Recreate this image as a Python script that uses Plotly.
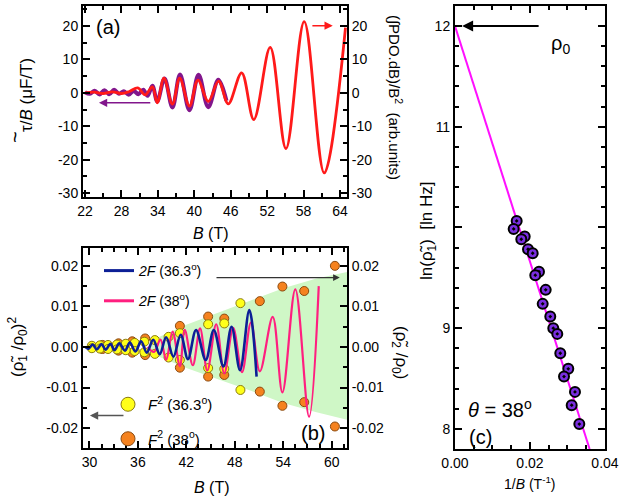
import plotly.graph_objects as go

W, H = 623, 496
FONT = "Arial, Liberation Sans, sans-serif"

# ---------------- panel (a) data ----------------
tau_B = [22.0, 22.8, 23.6, 24.4, 25.2, 26.0, 26.8, 27.6, 28.4, 29.2, 30.0, 30.8, 31.6, 32.3,
         33.1, 33.9, 35.1, 36.4, 37.65, 39.2, 40.7, 42.3, 43.96, 45.3]
tau_v = [0.2, -0.3, 0.6, -0.5, 0.8, -0.4, 0.9, -0.3, 0.5, -0.6, 0.6, -0.4, 0.9, -0.9,
         2.1, -2.6, 4.3, -4.4, 5.5, -5.2, 5.4, -4.3, 3.9, -2.4]
pdo_B = [22.0, 23.5, 25.0, 26.5, 28.0, 29.3, 30.7, 31.9, 33.1, 33.9, 35.0, 36.4, 37.6, 39.2,
         40.6, 42.3, 44.0, 45.6, 47.8, 49.8, 52.5, 55.1, 58.1, 61.4, 64.9]
pdo_v = [0.0, 0.2, -0.2, 0.3, -0.2, 0.4, 1.5, -0.6, 1.8, -3.0, 4.4, -3.4, 4.4, -4.0,
         3.8, -2.6, 3.5, -3.3, 6.0, -8.0, 13.6, -16.7, 21.3, -24.0, 19.5]
a_xticks = [22, 28, 34, 40, 46, 52, 58, 64]
a_yticks = [-30, -20, -10, 0, 10, 20]
a_ylabels = ["-30", "-20", "-10", "0", "10", "20"]

# ---------------- panel (b) data ----------------
blue_B = [29.5, 29.9, 30.4, 30.9, 31.5, 32.0, 32.6, 33.1, 33.7, 34.4, 35.0, 35.7, 36.4, 37.1,
          37.9, 38.7, 39.5, 40.4, 41.3, 42.2, 43.2, 44.4, 45.4, 46.6, 47.6, 48.65, 49.8, 50.7]
blue_v = [0.0, -0.0004, 0.0006, -0.0006, 0.0007, -0.0007, 0.0008, -0.0008, 0.0009, -0.0009,
          0.0011, -0.0011, 0.0014, -0.0014, 0.0018, -0.0018, 0.0024, -0.0024, 0.0030, -0.0030,
          0.0042, -0.0032, 0.0042, -0.0048, 0.0050, -0.0057, 0.0091, -0.0073]
pink_B = [37.2, 38.0, 38.8, 39.5, 40.3, 41.2, 41.8, 42.8, 43.7, 44.6, 45.7, 46.7, 47.8, 48.9,
          50.0, 51.1, 52.7, 53.9, 55.5, 57.2, 58.4]
pink_v = [0.0, -0.0012, 0.0018, -0.0032, 0.0038, -0.0047, 0.0042, -0.0045, 0.0046, -0.0058,
          0.0056, -0.0065, 0.0047, -0.0062, 0.0060, -0.0060, 0.0074, -0.0112, 0.0142, -0.0172, 0.0150]
yel_B = [30.3, 31.3, 32.3, 33.4, 34.5, 35.6, 36.8, 38.1, 39.8, 41.2, 44.7, 46.7, 48.7]
yel_hi = [0.0003, 0.0004, 0.0005, 0.0006, 0.0008, 0.0010, 0.0013, 0.0017, 0.0025, 0.0034,
          0.0056, 0.0058, 0.0108]
yel_lo = [-0.0003, -0.0004, -0.0005, -0.0006, -0.0008, -0.0010, -0.0013, -0.0017, -0.0026,
          -0.0032, -0.0052, -0.0054, -0.0106]
org_B = [31.6, 33.6, 35.3, 36.9, 41.2, 44.7, 46.7, 51.1, 53.9, 56.6, 60.4]
org_hi = [0.0005, 0.0009, 0.0014, 0.0021, 0.0052, 0.0075, 0.0070, 0.0113, 0.0149, 0.0138, 0.0200]
org_lo = [-0.0005, -0.0009, -0.0014, -0.0020, -0.0051, -0.0073, -0.0069, -0.0110, -0.0145,
          -0.0136, -0.0196]
env_B = [37.5, 42.0, 46.0, 50.0, 54.0, 58.0, 62.0]
env_hi = [0.0015, 0.0055, 0.0085, 0.0115, 0.0145, 0.0168, 0.0185]
env_lo = [-0.0015, -0.0052, -0.0080, -0.0108, -0.0138, -0.0160, -0.0180]
b_xticks = [30, 36, 42, 48, 54, 60]
b_yticks = [-0.02, -0.01, 0.0, 0.01, 0.02]
b_ylabels = ["-0.02", "-0.01", "0.00", "0.01", "0.02"]

# ---------------- panel (c) data ----------------
c_x = [0.01645, 0.01565, 0.01859, 0.01768, 0.01947, 0.02072, 0.0224, 0.02141, 0.02419, 0.02339,
       0.02541, 0.02621, 0.02728, 0.02808, 0.03021, 0.02907, 0.032, 0.03112, 0.03315]
c_y = [10.065, 9.985, 9.909, 9.883, 9.784, 9.744, 9.561, 9.526, 9.380, 9.241,
       9.115, 9.000, 8.943, 8.751, 8.596, 8.519, 8.367, 8.235, 8.047]
fit_x = [0.0, 0.0359]
fit_y = [12.0, 7.8]
c_xticks = [0.0, 0.02, 0.04]
c_xlabels = ["0.00", "0.02", "0.04"]
c_yticks = [8, 9, 10, 11, 12]
c_ylabels = ["8", "9", "", "11", "12"]


def P(x, y):
    return x / W, 1 - y / H


fig = go.Figure()

# panel (a)
fig.add_trace(go.Scatter(x=pdo_B, y=pdo_v, mode="lines", line=dict(color="#ff1a1a", width=2.8, shape="spline"),
                         xaxis="x", yaxis="y2", showlegend=False))
fig.add_trace(go.Scatter(x=tau_B, y=tau_v, mode="lines", line=dict(color="#82168c", width=4, shape="spline"),
                         xaxis="x", yaxis="y", showlegend=False))

# panel (b)
fig.add_trace(go.Scatter(x=env_B + env_B[::-1], y=env_hi + env_lo[::-1], mode="lines", fill="toself",
                         fillcolor="#cff7c6", line=dict(width=0, color="#cff7c6"),
                         xaxis="x2", yaxis="y3", showlegend=False))
fig.add_trace(go.Scatter(x=org_B + org_B, y=org_hi + org_lo, mode="markers",
                         marker=dict(color="#f5821f", size=9, line=dict(color="#8a4a10", width=1)),
                         xaxis="x2", yaxis="y3", showlegend=False))
fig.add_trace(go.Scatter(x=yel_B + yel_B, y=yel_hi + yel_lo, mode="markers",
                         marker=dict(color="#ffff1a", size=9, line=dict(color="#8a7a10", width=1)),
                         xaxis="x2", yaxis="y3", showlegend=False))
fig.add_trace(go.Scatter(x=pink_B, y=pink_v, mode="lines", line=dict(color="#ff1f7f", width=2.2, shape="spline"),
                         xaxis="x2", yaxis="y4", showlegend=False))
fig.add_trace(go.Scatter(x=blue_B, y=blue_v, mode="lines", line=dict(color="#0c1f96", width=2.6, shape="spline"),
                         xaxis="x2", yaxis="y4", showlegend=False))
# legend entries
fig.add_trace(go.Scatter(x=[None], y=[None], mode="lines", line=dict(color="#0c1f96", width=3),
                         name="<i>2F</i> (36.3<sup>o</sup>)", legend="legend", legendgroup="g1",
                         xaxis="x2", yaxis="y4"))
fig.add_trace(go.Scatter(x=[None], y=[None], mode="lines", line=dict(color="#ff1f7f", width=3),
                         name="<i>2F</i> (38<sup>o</sup>)", legend="legend", legendgroup="g2",
                         xaxis="x2", yaxis="y4"))
fig.add_trace(go.Scatter(x=[None], y=[None], mode="markers",
                         marker=dict(color="#ffff1a", size=14, line=dict(color="#8a7a10", width=1)),
                         name="<i>F</i><sup>2</sup> (36.3<sup>o</sup>)", legend="legend2", legendgroup="g3",
                         xaxis="x2", yaxis="y3"))
fig.add_trace(go.Scatter(x=[None], y=[None], mode="markers",
                         marker=dict(color="#f5821f", size=14, line=dict(color="#8a4a10", width=1)),
                         name="<i>F</i><sup>2</sup> (38<sup>o</sup>)", legend="legend2", legendgroup="g4",
                         xaxis="x2", yaxis="y3"))

# panel (c)
fig.add_trace(go.Scatter(x=fit_x, y=fit_y, mode="lines", line=dict(color="#ff10ff", width=2),
                         xaxis="x3", yaxis="y5", showlegend=False))
fig.add_trace(go.Scatter(x=c_x, y=c_y, mode="markers",
                         marker=dict(symbol="circle-dot", color="#7a2ee0", size=10, line=dict(color="black", width=2)),
                         xaxis="x3", yaxis="y5", showlegend=False))

tickfont = dict(family=FONT, size=14, color="black")
common = dict(showline=True, linewidth=2, linecolor="black", ticks="inside", ticklen=7, tickwidth=2,
              tickcolor="black", tickfont=tickfont, showgrid=False, zeroline=False, automargin=False)


def minor(dt, t0):
    return dict(tickmode="linear", dtick=dt, tick0=t0, ticks="inside", ticklen=4, tickwidth=1.5,
                tickcolor="black", showgrid=False)


xa = [0.1332, 0.557]
fig.update_layout(
    width=W, height=H, margin=dict(l=0, r=0, t=0, b=0, pad=0, autoexpand=False),
    paper_bgcolor="white", plot_bgcolor="white",
    font=dict(family=FONT, color="black"),
    xaxis=dict(domain=xa, anchor="y", range=[21.67, 65.15], tickmode="array", tickvals=a_xticks,
               mirror="ticks", minor=minor(3, 22), **common),
    yaxis=dict(domain=[0.6028, 0.9879], anchor="x", range=[-31.2, 26.0], tickmode="array",
               tickvals=a_yticks, ticktext=a_ylabels, mirror=True, minor=minor(5, 0), **common),
    yaxis2=dict(overlaying="y", side="right", anchor="x", range=[-31.2, 26.0], tickmode="array",
                tickvals=a_yticks, ticktext=a_ylabels, minor=minor(5, 0), **common),
    xaxis2=dict(domain=xa, anchor="y3", range=[29.2, 61.9], tickmode="array", tickvals=b_xticks,
                mirror="ticks", minor=minor(1.5, 30), **common),
    yaxis3=dict(domain=[0.0968, 0.5], anchor="x2", range=[-0.0249, 0.0244], tickmode="array",
                tickvals=b_yticks, ticktext=b_ylabels, mirror=True, minor=minor(0.005, 0), **common),
    yaxis4=dict(overlaying="y3", side="right", anchor="x2", range=[-0.0249, 0.0244], tickmode="array",
                tickvals=b_yticks, ticktext=b_ylabels, minor=minor(0.005, 0), **common),
    xaxis3=dict(domain=[0.7303, 0.9711], anchor="y5", range=[0, 0.04], tickmode="array",
                tickvals=c_xticks, ticktext=c_xlabels, mirror="ticks", minor=minor(0.005, 0), **common),
    yaxis5=dict(domain=[0.0948, 0.9879], anchor="x3", range=[7.8, 12.199], tickmode="array",
                tickvals=c_yticks, ticktext=c_ylabels, mirror="ticks", minor=minor(0.2, 8), **common),
    legend=dict(x=99 / W, y=1 - 255 / H, xanchor="left", yanchor="top", bgcolor="rgba(0,0,0,0)",
                font=dict(family=FONT, size=14, color="black"), traceorder="grouped", tracegroupgap=9,
                itemsizing="trace"),
    legend2=dict(x=108 / W, y=1 - 388 / H, xanchor="left", yanchor="top", bgcolor="rgba(0,0,0,0)",
                 font=dict(family=FONT, size=15, color="black"), traceorder="grouped", tracegroupgap=12,
                 itemsizing="trace"),
)

ann = []


def text(px, py, s, size=16, angle=0, xanchor="center", italic=False):
    x, y = P(px, py)
    ann.append(dict(x=x, y=y, xref="paper", yref="paper", text=s, showarrow=False, textangle=angle,
                    xanchor=xanchor, yanchor="middle", font=dict(family=FONT, size=size, color="black")))


def arrow(xr, yr, x0, y0, x1, y1, color, width=1.5):
    ann.append(dict(x=x1, y=y1, ax=x0, ay=y0, xref=xr, yref=yr, axref=xr, ayref=yr, text="",
                    showarrow=True, arrowhead=2, arrowsize=1.1, arrowwidth=width, arrowcolor=color))


# axis titles
text(26, 95, "τ/<i>B</i> (μF/T)", 17, -90)
text(15, 137, "~", 20, -90)
text(211, 233, "<i>B</i> (T)", 16)
text(395, 98, "(∫PDO.dB)/B<sup>2</sup>  (arb.units)", 15, 90)
text(17, 347, "(ρ̃<sub>1</sub> /ρ<sub>0</sub>)<sup>2</sup>", 17, -90)
text(400, 352, "(ρ̃<sub>2</sub> /ρ<sub>0</sub>)", 17, 90)
text(212, 487, "<i>B</i> (T)", 16)
text(428, 231, "ln(ρ̃<sub>1</sub>)  [ln Hz]", 17, -90)
text(530, 483, "1/<i>B</i> (T<sup>-1</sup>)", 14)
# labels
text(108, 27, "(a)", 20)
text(313, 433, "(b)", 20)
text(480, 437, "(c)", 20)
text(500, 408, "<i>θ</i> = 38<sup>o</sup>", 20)
text(560, 45, "ρ<sub>0</sub>", 20)
# arrows
arrow("x", "y", 33.0, -3.0, 24.3, -3.0, "#82168c")
arrow("x", "y", 59.2, 20.1, 62.8, 20.1, "#ff1a1a")
arrow("x2", "y3", 45.55, 0.0171, 61.0, 0.0171, "#333333", 1.2)
arrow("x2", "y3", 34.4, -0.0169, 30.06, -0.0169, "#555555", 1.5)
arrow("x3", "y5", 0.0227, 12.0, 0.0019, 12.0, "black", 2)

fig.update_layout(annotations=ann)
fig.write_html("out.html", config={"displayModeBar": False},
               post_script="document.body.style.margin='0';")
